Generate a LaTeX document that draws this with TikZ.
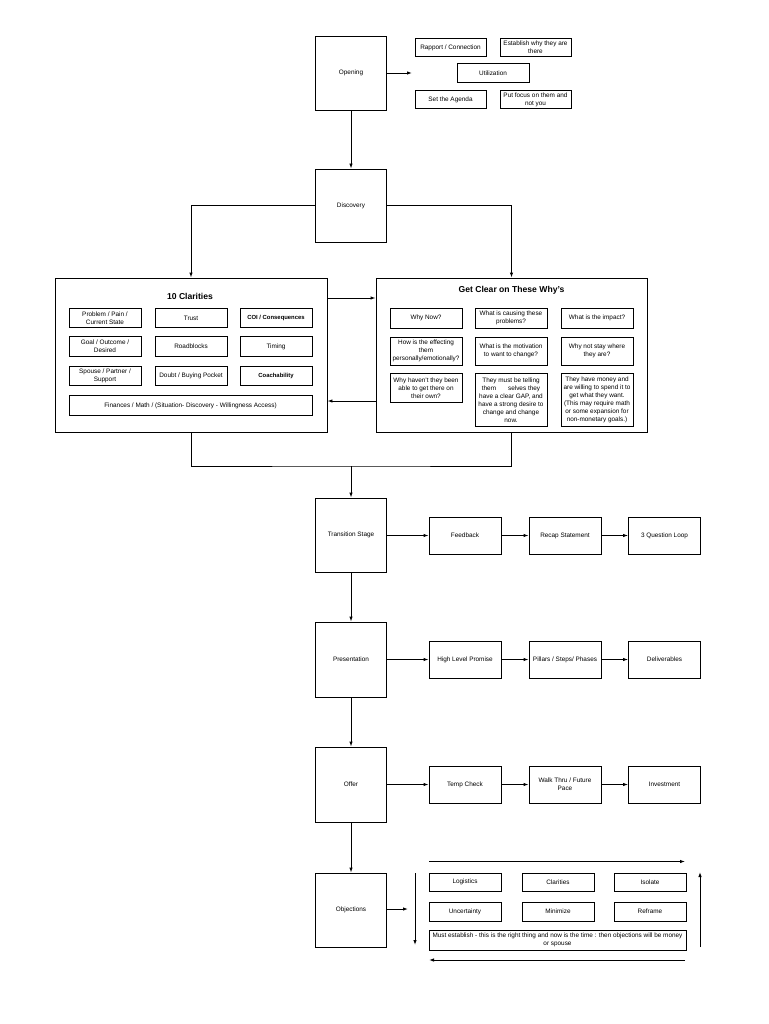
\documentclass[tikz,border=0pt]{standalone}
\usepackage{fontspec}
\setmainfont{Liberation Sans}
\usetikzlibrary{arrows.meta}
\begin{document}
\begin{tikzpicture}[x=1pt,y=-1pt,
  box/.style={draw,line width=0.9pt,inner sep=0pt,align=center,font=\fontsize{6.4}{8}\selectfont},
  boldbox/.style={box,font=\bfseries\fontsize{5.9}{8}\selectfont},
  sz/.style 2 args={minimum width=#1pt,minimum height=#2pt},
  title/.style={font=\bfseries\fontsize{8.6}{10}\selectfont,inner sep=0pt},
  arr/.style={line width=0.9pt,-{Latex[length=5pt,width=3.5pt]}},
  ln/.style={line width=0.9pt}]
\useasboundingbox (0,0) rectangle (768,1024);
\fill[white] (0,0) rectangle (768,1024);

% main column
\node[box,sz={71}{74}] (open) at (351,73) {Opening};
\node[box,sz={71}{73}] (disc) at (351,205.5) {Discovery};
\node[box,sz={71}{74}] (trans) at (351,535) {Transition Stage};
\node[box,sz={71}{75}] (pres) at (351,659.5) {Presentation};
\node[box,sz={71}{75}] (offer) at (351,784.5) {Offer};
\node[box,sz={71}{74}] (obj) at (351,910) {Objections};

% opening details
\node[box,sz={71}{18.5}] (rapport) at (450.5,47.5) {Rapport / Connection};
\node[box,sz={71}{18.5}] (establish) at (535.5,47.5) {Establish why they are\\there};
\node[box,sz={72}{19}] (util) at (493,73) {Utilization};
\node[box,sz={71}{18.5}] (agenda) at (450.5,99.5) {Set the Agenda};
\node[box,sz={71}{18.5}] (focus) at (535.5,99.5) {Put focus on them and\\not you};
\coordinate (openend) at (412,73);
\draw[arr] (open.east |- openend) -- (openend);

% 10 clarities
\node[draw,line width=0.9pt,sz={272}{154}] (clar) at (191,355) {};
\node[title] (clartitle) at (190,296) {10 Clarities};
\node[box,sz={72}{19.5}] (c11) at (105,318) {Problem / Pain /\\Current State};
\node[box,sz={72}{19.5}] (c12) at (191,318) {Trust};
\node[boldbox,sz={72}{19.5}] (c13) at (276,318) {COI / Consequences};
\node[box,sz={72}{19.5}] (c21) at (105,346.5) {Goal / Outcome /\\Desired};
\node[box,sz={72}{19.5}] (c22) at (191,346.5) {Roadblocks};
\node[box,sz={72}{19.5}] (c23) at (276,346.5) {Timing};
\node[box,sz={72}{19.5}] (c31) at (105,376) {Spouse / Partner /\\Support};
\node[box,sz={72}{19.5}] (c32) at (191,376) {Doubt / Buying Pocket};
\node[boldbox,sz={72}{19.5}] (c33) at (276,376) {Coachability};
\node[box,sz={243}{19.5}] (c4) at (190.5,405.5) {Finances / Math / (Situation- Discovery - Willingness Access)};

% whys
\node[draw,line width=0.9pt,sz={271}{154}] (why) at (511.5,355) {};
\node[title] (whytitle) at (511.5,290) {Get Clear on These Why's};
\node[box,sz={72}{20}] (w11) at (426,318) {Why Now?};
\node[box,sz={72}{20}] (w12) at (511,318) {What is causing these\\problems?};
\node[box,sz={72}{20}] (w13) at (597,318) {What is the impact?};
\node[box,sz={72}{28}] (w21) at (426,351) {How is the effecting\\them\\personally/emotionally?};
\node[box,sz={72}{28}] (w22) at (511,351) {What is the motivation\\to want to change?};
\node[box,sz={72}{28}] (w23) at (597,351) {Why not stay where\\they are?};
\node[box,sz={72}{29},anchor=north] (w31) at (426,373) {Why haven't they been\\able to get there on\\their own?};
\node[box,sz={72}{53},anchor=north] (w32) at (511,373) {They must be telling\\them\hspace{12pt}selves they\\have a clear GAP, and\\have a strong desire to\\change and change\\now.};
\node[box,sz={72}{53},anchor=north] (w33) at (597,373) {They have money and\\are willing to spend it to\\get what they want.\\(This may require math\\or some expansion for\\non-monetary goals.)};

% discovery branches
\draw[arr] (disc.west) -| (clar.north);
\draw[arr] (disc.east) -| (why.north);
\draw[arr] (open.south) -- (disc.north);
\coordinate (ya) at (0,298);
\coordinate (yb) at (0,401);
\draw[arr] (clar.east |- ya) -- (why.west |- ya);
\draw[arr] (why.west |- yb) -- (clar.east |- yb);
\coordinate (join) at (351,466);
\draw[ln] (clar.south) |- (join) -| (why.south);
\draw[arr] (join) -- (trans.north);

% transition row
\node[box,sz={72}{37}] (feed) at (465,535.5) {Feedback};
\node[box,sz={72}{37}] (recap) at (565,535.5) {Recap Statement};
\node[box,sz={72}{37}] (loop) at (664.5,535.5) {3 Question Loop};
\draw[arr] (trans.east |- feed) -- (feed.west);
\draw[arr] (feed) -- (recap);
\draw[arr] (recap) -- (loop);

% presentation row
\node[box,sz={72}{37}] (promise) at (465,659.5) {High Level Promise};
\node[box,sz={72}{37}] (pillars) at (565,659.5) {Pillars / Steps/ Phases};
\node[box,sz={72}{37}] (deliv) at (664.5,659.5) {Deliverables};
\draw[arr] (pres.east |- promise) -- (promise.west);
\draw[arr] (promise) -- (pillars);
\draw[arr] (pillars) -- (deliv);

% offer row
\node[box,sz={72}{37}] (temp) at (465,784.5) {Temp Check};
\node[box,sz={72}{37}] (walk) at (565,784.5) {Walk Thru / Future\\Pace};
\node[box,sz={72}{37}] (invest) at (664.5,784.5) {Investment};
\draw[arr] (offer.east |- temp) -- (temp.west);
\draw[arr] (temp) -- (walk);
\draw[arr] (walk) -- (invest);

\draw[arr] (trans.south) -- (pres.north);
\draw[arr] (pres.south) -- (offer.north);
\draw[arr] (offer.south) -- (obj.north);

% objections
\node[box,sz={72}{18}] (logi) at (465,882) {Logistics};
\node[box,sz={72}{18}] (clari) at (558,882) {Clarities};
\node[box,sz={72}{18}] (iso) at (650,882) {Isolate};
\node[box,sz={72}{19}] (unc) at (465,911.5) {Uncertainty};
\node[box,sz={72}{19}] (mini) at (558,911.5) {Minimize};
\node[box,sz={72}{19}] (refr) at (650,911.5) {Reframe};
\node[box,sz={257}{20}] (must) at (557.5,940) {Must establish - this is the right thing and now is the time : then objections will be money\\or spouse};
\coordinate (objend) at (408,909);
\draw[arr] (obj.east |- objend) -- (objend);
\coordinate (ta) at (429,861.5);
\coordinate (tb) at (685,861.5);
\coordinate (la) at (415,873);
\coordinate (lb) at (415,945);
\coordinate (ra) at (700,947);
\coordinate (rb) at (700,872);
\coordinate (ba) at (685,960);
\coordinate (bb) at (429,960);
\draw[arr] (ta) -- (tb);
\draw[arr] (la) -- (lb);
\draw[arr] (ra) -- (rb);
\draw[arr] (ba) -- (bb);
\end{tikzpicture}
\end{document}
